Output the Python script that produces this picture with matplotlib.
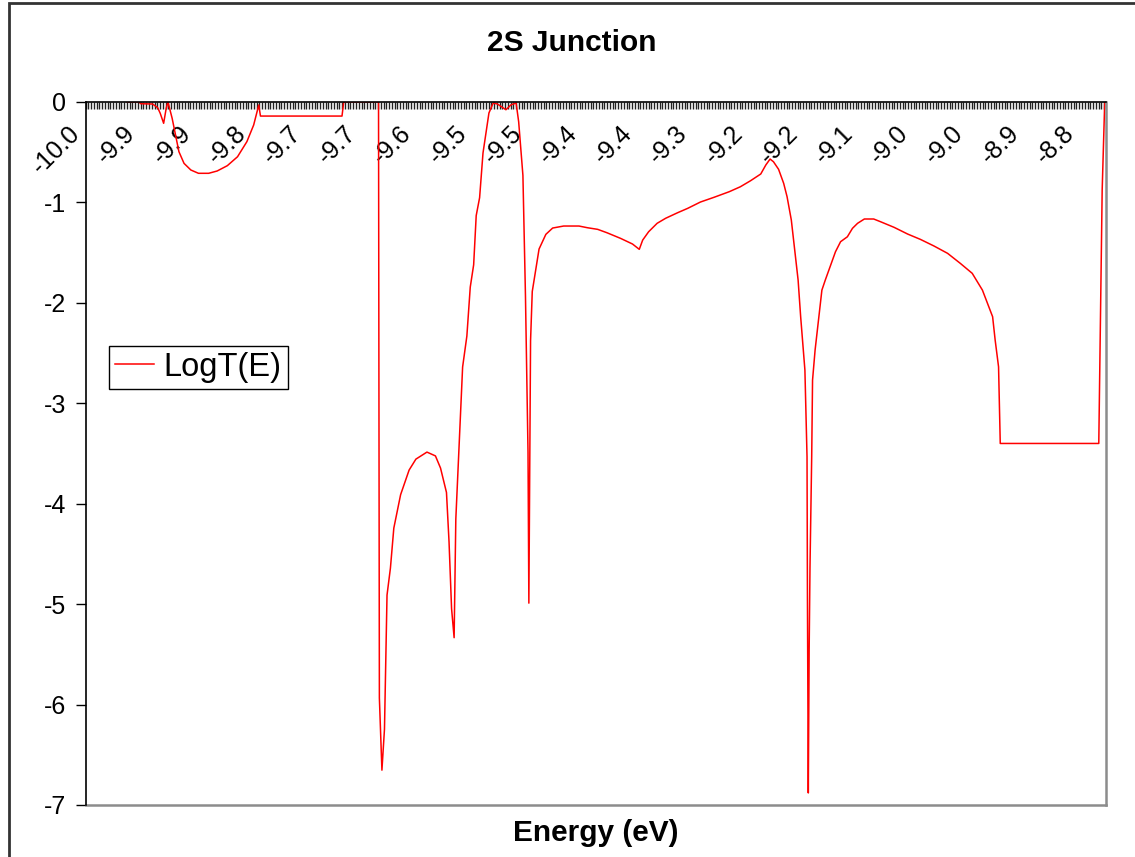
import numpy as np
import matplotlib
matplotlib.use('Agg')
import matplotlib.pyplot as plt
from matplotlib.patches import Rectangle
from matplotlib.transforms import ScaledTranslation

plt.rcParams['font.family'] = ['Liberation Sans', 'DejaVu Sans']
plt.rcParams['axes.unicode_minus'] = False

# energy (eV) and log transmission
energy = [
    -9.951, -9.937, -9.935, -9.921, -9.915, -9.912, -9.908, -9.905, -9.903,
    -9.902, -9.898, -9.894, -9.890, -9.884, -9.876, -9.867, -9.855, -9.845,
    -9.833, -9.821, -9.810, -9.802, -9.796, -9.794, -9.698, -9.696, -9.657,
    -9.655, -9.654, -9.651, -9.648, -9.645, -9.641, -9.637, -9.629, -9.619,
    -9.611, -9.598, -9.588, -9.582, -9.575, -9.572, -9.569, -9.566, -9.564,
    -9.560, -9.556, -9.551, -9.547, -9.543, -9.540, -9.536, -9.532, -9.525,
    -9.520, -9.515, -9.505, -9.499, -9.493, -9.490, -9.485, -9.482, -9.479,
    -9.478, -9.476, -9.474, -9.466, -9.458, -9.450, -9.442, -9.437, -9.419,
    -9.409, -9.397, -9.386, -9.370, -9.356, -9.348, -9.344, -9.337, -9.327,
    -9.317, -9.303, -9.291, -9.276, -9.260, -9.242, -9.229, -9.217, -9.205,
    -9.199, -9.194, -9.190, -9.184, -9.178, -9.174, -9.169, -9.165, -9.161,
    -9.158, -9.153, -9.1505, -9.1500, -9.149, -9.148, -9.147, -9.145, -9.144,
    -9.141, -9.137, -9.133, -9.129, -9.124, -9.117, -9.111, -9.103, -9.097,
    -9.091, -9.083, -9.072, -9.064, -9.048, -9.032, -9.017, -9.001, -8.985,
    -8.970, -8.956, -8.944, -8.938, -8.932, -8.929, -8.925, -8.923, -8.807,
    -8.803, -8.800,
]
log_t = [
    0.0, 0.0, -0.017, -0.02, -0.057, -0.113, -0.212, -0.063, 0.0,
    -0.03, -0.162, -0.329, -0.495, -0.611, -0.677, -0.710, -0.710, -0.687,
    -0.634, -0.545, -0.395, -0.229, -0.030, -0.14, -0.14, 0.0, 0.0,
    0.0, -5.934, -6.653, -6.245, -4.910, -4.641, -4.243, -3.910, -3.665,
    -3.556, -3.486, -3.524, -3.645, -3.888, -4.377, -5.045, -5.334, -4.153,
    -3.396, -2.639, -2.331, -1.843, -1.621, -1.131, -0.953, -0.508, -0.109,
    -0.010, -0.020, -0.077, -0.028, -0.010, -0.197, -0.731, -1.932, -3.486,
    -4.990, -2.376, -1.887, -1.464, -1.318, -1.255, -1.242, -1.235, -1.235,
    -1.252, -1.268, -1.302, -1.358, -1.414, -1.467, -1.375, -1.292, -1.208,
    -1.158, -1.103, -1.059, -0.996, -0.949, -0.893, -0.844, -0.784, -0.717,
    -0.627, -0.568, -0.595, -0.670, -0.810, -0.943, -1.175, -1.474, -1.773,
    -2.138, -2.669, -3.533, -4.96, -6.880, -5.458, -4.628, -3.533, -2.769,
    -2.470, -2.171, -1.873, -1.773, -1.656, -1.491, -1.391, -1.342, -1.258,
    -1.208, -1.165, -1.165, -1.192, -1.248, -1.315, -1.368, -1.434, -1.507,
    -1.607, -1.706, -1.873, -2.005, -2.138, -2.371, -2.637, -3.400, -3.400,
    -0.876, 0.0,
]

tick_labels = ["-10.0", "-9.9", "-9.9", "-9.8", "-9.7", "-9.7", "-9.6", "-9.5",
               "-9.5", "-9.4", "-9.4", "-9.3", "-9.2", "-9.2", "-9.1", "-9.0",
               "-9.0", "-8.9", "-8.8"]
y_ticks = [0, -1, -2, -3, -4, -5, -6, -7]

W, H = 1135, 857
fig = plt.figure(figsize=(W / 100, H / 100), dpi=100)
ax = fig.add_axes([85.5 / W, 1 - 805 / H, (1106 - 85.5) / W, (805 - 102) / H])

ax.plot(energy, log_t, color='#ff0000', lw=1.1, label='LogT(E)')
ax.set_xlim(-10.0, -8.7985)
ax.set_ylim(-7, 0)

# x axis sits on y = 0 at the top, Excel style
ax.spines['bottom'].set_position(('data', 0))
ax.spines['bottom'].set_linewidth(1.2)
ax.spines['left'].set_linewidth(1.2)
ax.spines['top'].set_visible(False)
ax.spines['right'].set_color('#8c8c8c')
ax.spines['right'].set_linewidth(1.8)
ax.plot([0, 1], [0, 0], transform=ax.transAxes, color='#8c8c8c', lw=1.8, clip_on=False)

positions = [-10.0 + 0.065 * k for k in range(len(tick_labels))]
ax.set_xticks(positions)
ax.set_xticklabels(tick_labels, rotation=45, ha='right', va='center',
                   rotation_mode='anchor', fontsize=18)
ax.set_xticks(np.arange(-10.0, -8.80, 0.00325), minor=True)
ax.tick_params(axis='x', which='both', direction='out', length=5, width=1.0,
               color='#222222', pad=15)
for lbl in ax.get_xticklabels():
    lbl.set_transform(lbl.get_transform() + ScaledTranslation(-0.09, 0, fig.dpi_scale_trans))

ax.set_yticks(y_ticks)
ax.set_yticklabels([str(v) for v in y_ticks], fontsize=18)
ax.tick_params(axis='y', direction='out', length=7, width=1, pad=7)

leg = ax.legend(loc='upper left', bbox_to_anchor=(109 / W, 1 - 346 / H),
                bbox_transform=fig.transFigure, fontsize=23.5, frameon=True,
                fancybox=False, edgecolor='black', framealpha=1, borderpad=0.18,
                handlelength=1.2, handletextpad=0.3, borderaxespad=0)
leg.get_frame().set_linewidth(1)

fig.text(572 / W, 1 - 43 / H, '2S Junction', ha='center', va='center',
         fontsize=21.5, fontweight='bold')
fig.text(596 / W, 1 - 833 / H, 'Energy (eV)', ha='center', va='center',
         fontsize=21.5, fontweight='bold')

fig.add_artist(Rectangle((8.5 / W, -0.05), 1.1, 1.05 - 3 / H, transform=fig.transFigure,
                         fill=False, edgecolor='#333333', lw=2))

fig.savefig('out.png', dpi=100)
